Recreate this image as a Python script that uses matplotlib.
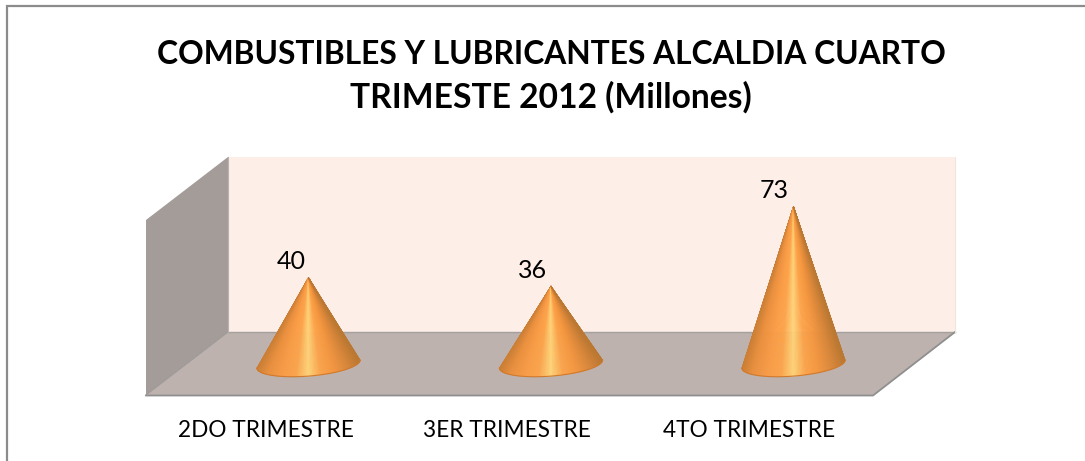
import numpy as np
import matplotlib
matplotlib.use("Agg")
import matplotlib.pyplot as plt
from matplotlib.collections import PolyCollection
from matplotlib.colors import LinearSegmentedColormap
from matplotlib.patches import Polygon

categories = ["2DO TRIMESTRE", "3ER TRIMESTRE", "4TO TRIMESTRE"]
values = [40, 36, 73]
title_lines = ["COMBUSTIBLES Y LUBRICANTES ALCALDIA CUARTO", "TRIMESTE 2012 (Millones)"]

W, H = 1085, 461
plt.rcParams["font.family"] = ["Lato", "DejaVu Sans"]

fig = plt.figure(figsize=(W / 100, H / 100), dpi=100, facecolor="white")

# background layer works in pixels, for the frame and the 3d walls
bg = fig.add_axes([0, 0, 1, 1])
bg.set_xlim(0, W)
bg.set_ylim(H, 0)
bg.axis("off")

bg.plot([7, 7, W], [H, 6.5, 6.5], color="#8c8c8c", lw=1.6, solid_joinstyle="miter")

bg.add_patch(Polygon([(228, 157), (955, 157), (955, 332), (228, 332)], fc="#fdeee7", ec="none"))
bg.add_patch(Polygon([(146, 220), (228, 157), (228, 332), (146, 395)], fc="#a49c99", ec="none"))
bg.add_patch(Polygon([(228, 332), (955, 332), (873, 395), (146, 395)], fc="#bdb2ae", ec="none"))
bg.plot([228, 955], [332, 332], color="#a3a09e", lw=1.0)
bg.plot([955, 873, 146], [332, 395.5, 395.5], color="#8f8f8f", lw=1.3)
bg.plot([146, 228], [395, 332], color="#9c9997", lw=0.8)
bg.plot([228, 228], [157, 332], color="#b8b3b1", lw=0.8)
bg.plot([955, 955], [157, 332], color="#f1e6e1", lw=0.8)

# cones sit on their own axes, x in category units and y in value units
x0, dx = 308.5, 242.5
y0, dy = 364.0, 2.16
ax = fig.add_axes([0, 0, 1, 1], facecolor="none")
ax.set_xlim((0 - x0) / dx, (W - x0) / dx)
ax.set_ylim((y0 - H) / dy, y0 / dy)
ax.axis("off")

cone_cmap = LinearSegmentedColormap.from_list(
    "cone",
    [(0.0, "#cb7f36"), (0.1, "#e98f3e"), (0.25, "#fa9c46"), (0.38, "#fca44c"),
     (0.5, "#ffd479"), (0.62, "#fca44c"), (0.75, "#f5973f"), (0.9, "#d68539"), (1.0, "#bb7832")],
)
rx, ry, tilt = 0.213, 5.6, 1.85
phi = np.linspace(np.pi, 2 * np.pi, 121)

for i, v in enumerate(values):
    bx = i + rx * np.cos(phi)
    by = ry * np.sin(phi) + tilt * np.cos(phi)
    tris = [[(i, v), (bx[k], by[k]), (bx[k + 1], by[k + 1])] for k in range(len(phi) - 1)]
    shade = cone_cmap((np.cos(phi[:-1] + np.diff(phi) / 2) + 1) / 2)
    ax.add_collection(PolyCollection(tris, facecolors=shade, edgecolors=shade, linewidths=0.4))
    # thin darker rim on the front of the base
    ax.plot(bx, by, color="#cf7a2e", lw=0.8)
    ax.text(i * 0.996 - 0.072, v + 7.3, str(v), ha="center", va="center", fontsize=18, color="black")

for i, name in enumerate(categories):
    ax.text(i * 0.995 - 0.175, -31, name, ha="center", va="center", fontsize=16.3, color="black")

# two separate lines, the second one runs wider in the original font
fig.text(551.5 / W, 1 - 54 / H, title_lines[0], ha="center", va="center", fontsize=22.9,
         fontweight="bold", color="black")
fig.text(551 / W, 1 - 97 / H, title_lines[1], ha="center", va="center", fontsize=24.2,
         fontweight="bold", color="black")

fig.savefig("out.png", dpi=100)
plt.close(fig)
